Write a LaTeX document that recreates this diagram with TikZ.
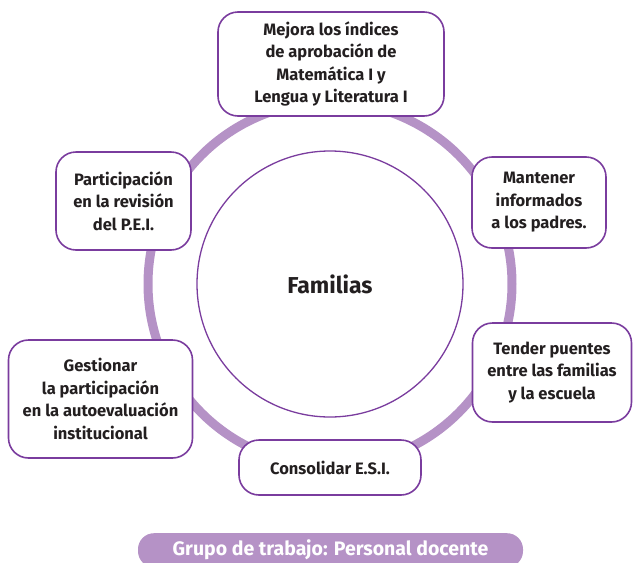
\documentclass[tikz,border=0pt]{standalone}
\usepackage{fontspec}
\setmainfont{Fira Sans}
\definecolor{ringc}{HTML}{B592C6}
\definecolor{boxc}{HTML}{7A3C9E}
\definecolor{txt}{HTML}{231F20}
\tikzset{
  box/.style={draw=boxc, line width=1.6pt, fill=white, rounded corners=20pt, align=center,
    font=\fontsize{16.5}{22.5}\selectfont\bfseries, text=txt, inner sep=0pt},
  ring/.style={draw=ringc, line width=9pt},
  center/.style={circle, draw=boxc, line width=1.3pt, fill=white, minimum size=266pt,
    font=\fontsize{23}{26}\selectfont\bfseries, text=txt},
  pill/.style={fill=ringc, rounded corners=16pt, text=white, font=\fontsize{19.5}{22}\selectfont\bfseries}
}
\begin{document}
\begin{tikzpicture}[x=1pt,y=-1pt]
\useasboundingbox (0,0) rectangle (633,563);
\node[circle, minimum size=364pt, ring] (ring) at (330,284) {};
\node[center] (fam) at (330,284) {Familias};
\node[box, minimum width=226pt, minimum height=104pt] (b1) at (331,64) {Mejora los índices\\de aprobación de\\Matemática I y\\Lengua y Literatura I};
\node[box, minimum width=135pt, minimum height=98pt] (b2) at (123.5,201) {Participación\\en la revisión\\del P.E.I.};
\node[box, minimum width=134pt, minimum height=91pt] (b3) at (539,202.5) {Mantener\\informados\\a los padres.};
\node[box, minimum width=184pt, minimum height=118pt] (b4) at (100.5,399) {Gestionar\\la participación\\en la autoevaluación\\institucional};
\node[box, minimum width=159pt, minimum height=99pt] (b5) at (552,372.5) {Tender puentes\\entre las familias\\y la escuela};
\node[box, minimum width=182pt, minimum height=55pt] (b6) at (330,467.5) {Consolidar E.S.I.};
\node[pill, minimum width=385pt, minimum height=34pt, anchor=north] (lab) at (330.5,533) {Grupo de trabajo: Personal docente};
\end{tikzpicture}
\end{document}
